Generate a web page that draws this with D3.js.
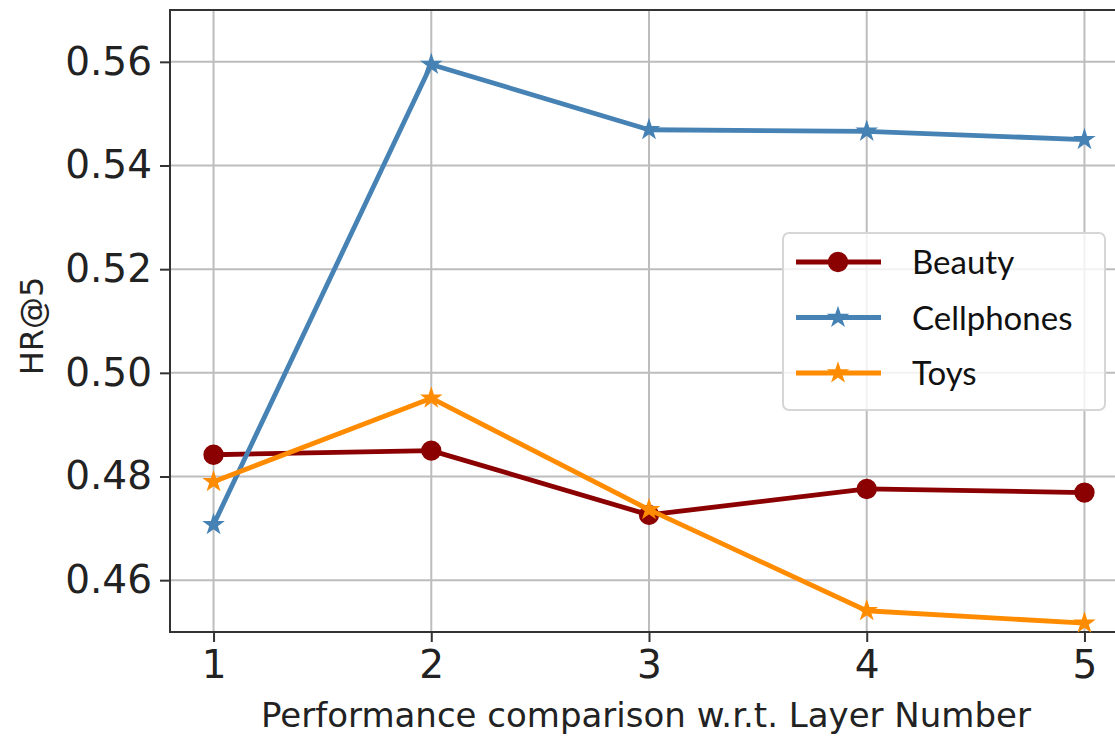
<!DOCTYPE html>
<html>
<head>
<meta charset="utf-8">
<script src="https://cdn.jsdelivr.net/npm/d3@7"></script>
<style>
  body { margin: 0; background: #fff; }
  svg { display: block; }
</style>
</head>
<body>
<div id="chart"></div>
<script>
// data
var layers = [1, 2, 3, 4, 5];
var beauty = [0.4842, 0.4850, 0.4726, 0.4776, 0.4769];
var cellphones = [0.4707, 0.5595, 0.5469, 0.5466, 0.5450];
var toys = [0.4790, 0.4951, 0.4736, 0.4541, 0.4517];
var yTicks = [0.46, 0.48, 0.50, 0.52, 0.54, 0.56];
var seriesNames = ["Beauty", "Cellphones", "Toys"];

function init() {
    var w = 1115;
    var h = 736;
    var margin = {left: 170, top: 10, right: -13, bottom: 104};

    var svg = d3.select("#chart")
                .append("svg")
                .attr("width", w)
                .attr("height", h);

    var x = d3.scaleLinear()
              .domain([0.8, 5.2])
              .range([margin.left, w - margin.right]);

    var y = d3.scaleLinear()
              .domain([0.45, 0.57])
              .range([h - margin.bottom, margin.top]);

    var series = [
        {name: seriesNames[0], values: beauty, color: "#8b0000", marker: "circle"},
        {name: seriesNames[1], values: cellphones, color: "#4682b4", marker: "star"},
        {name: seriesNames[2], values: toys, color: "#ff8c00", marker: "star"}
    ];

    //grid
    svg.append("g")
       .selectAll("line.gx")
       .data(layers)
       .enter()
       .append("line")
       .attr("x1", function(d) { return x(d); })
       .attr("x2", function(d) { return x(d); })
       .attr("y1", y.range()[0])
       .attr("y2", y.range()[1])
       .style("stroke", "#bdbdbd")
       .style("stroke-width", 2);

    svg.append("g")
       .selectAll("line.gy")
       .data(yTicks)
       .enter()
       .append("line")
       .attr("x1", x.range()[0])
       .attr("x2", x.range()[1])
       .attr("y1", function(d) { return y(d); })
       .attr("y2", function(d) { return y(d); })
       .style("stroke", "#bdbdbd")
       .style("stroke-width", 2);

    //axes
    var xAxis = svg.append("g")
                   .attr("transform", "translate(0," + y.range()[0] + ")")
                   .call(d3.axisBottom(x).tickValues(layers).tickFormat(d3.format("d")).tickSize(10).tickPadding(8));

    var yAxis = svg.append("g")
                   .attr("transform", "translate(" + x.range()[0] + ",0)")
                   .call(d3.axisLeft(y).tickValues(yTicks).tickFormat(d3.format(".2f")).tickSize(10).tickPadding(8));

    [xAxis, yAxis].forEach(function(a) {
        a.select(".domain").remove();
        a.selectAll(".tick line").style("stroke", "#333").style("stroke-width", 2);
        a.selectAll(".tick text")
         .style("font-family", "DejaVu Sans")
         .style("font-size", "39px")
         .style("fill", "#222");
    });

    //frame
    svg.append("rect")
       .attr("x", x.range()[0])
       .attr("y", y.range()[1])
       .attr("width", x.range()[1] - x.range()[0])
       .attr("height", y.range()[0] - y.range()[1])
       .style("fill", "none")
       .style("stroke", "#333")
       .style("stroke-width", 2);

    //labels
    svg.append("text")
       .attr("x", 646)
       .attr("y", 727)
       .attr("text-anchor", "middle")
       .style("font-family", "DejaVu Sans")
       .style("font-size", "34px")
       .style("fill", "#222")
       .text("Performance comparison w.r.t. Layer Number");

    svg.append("text")
       .attr("transform", "translate(43,326) rotate(-90)")
       .attr("text-anchor", "middle")
       .style("font-family", "DejaVu Sans")
       .style("font-size", "32px")
       .style("fill", "#222")
       .text("HR@5");

    var star = d3.symbol().type(d3.symbolStar).size(100);
    var dot = d3.symbol().type(d3.symbolCircle).size(280);

    var line = d3.line()
                 .x(function(d, i) { return x(layers[i]); })
                 .y(function(d) { return y(d); });

    series.forEach(function(s) {
        var g = svg.append("g");
        g.append("path")
         .datum(s.values)
         .attr("d", line)
         .style("fill", "none")
         .style("stroke", s.color)
         .style("stroke-width", 4.8)
         .style("stroke-linejoin", "round");

        g.selectAll("path.m")
         .data(s.values)
         .enter()
         .append("path")
         .attr("transform", function(d, i) { return "translate(" + x(layers[i]) + "," + y(d) + ")"; })
         .attr("d", s.marker === "circle" ? dot : star)
         .style("fill", s.color)
         .style("stroke", s.color)
         .style("stroke-width", 1.5);
    });

    //legend
    var lg = svg.append("g").attr("transform", "translate(783,233)");
    lg.append("rect")
      .attr("width", 322)
      .attr("height", 177)
      .attr("rx", 6)
      .style("fill", "rgba(255,255,255,0.8)")
      .style("stroke", "#d6d6d6")
      .style("stroke-width", 2);

    series.forEach(function(s, i) {
        var yy = 29 + i * 55.5;
        lg.append("line")
          .attr("x1", 13)
          .attr("x2", 98)
          .attr("y1", yy)
          .attr("y2", yy)
          .style("stroke", s.color)
          .style("stroke-width", 4.8);
        lg.append("path")
          .attr("transform", "translate(55," + yy + ")")
          .attr("d", s.marker === "circle" ? dot : star)
          .style("fill", s.color)
          .style("stroke", s.color)
          .style("stroke-width", 1.5);
        lg.append("text")
          .attr("x", 129)
          .attr("y", yy + 12)
          .style("font-family", "Lato")
          .style("font-size", "33px")
          .style("fill", "#111")
          .text(s.name);
    });
}

window.onload = init;
</script>
</body>
</html>
